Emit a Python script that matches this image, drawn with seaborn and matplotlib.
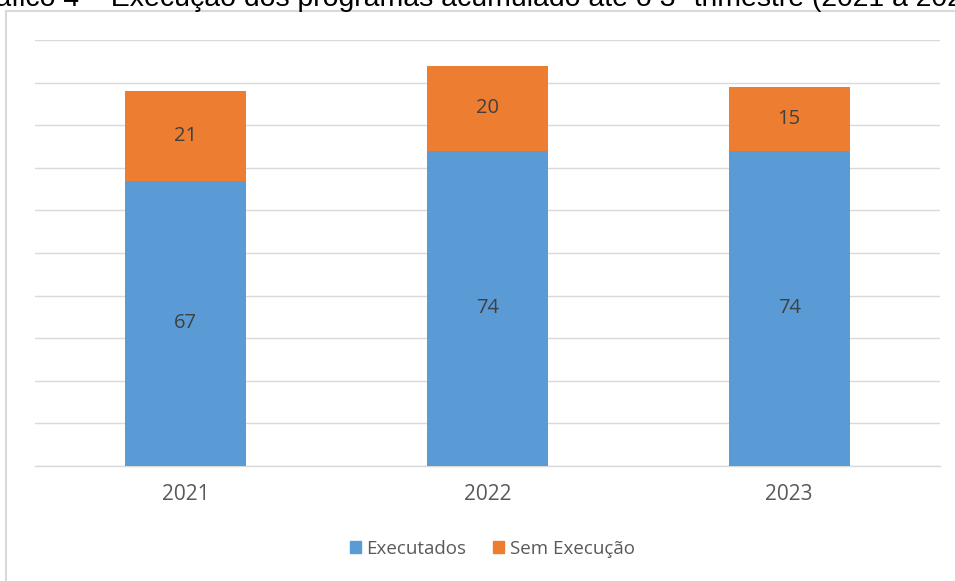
import matplotlib
matplotlib.use("Agg")
import matplotlib.pyplot as plt
import matplotlib.patches as mpatches
import pandas as pd
import seaborn as sns

# data
anos = ["2021", "2022", "2023"]
executados = [67, 74, 74]
sem_execucao = [21, 20, 15]

titulo = "Gráfico 4 – Execução dos programas acumulado até o 3º trimestre (2021 a 2023)"

df = pd.DataFrame({"Ano": anos, "Executados": executados, "Sem Execução": sem_execucao})
df["Total"] = df["Executados"] + df["Sem Execução"]

azul = "#5B9BD5"
laranja = "#ED7D31"

sns.set_style("white")
plt.rcParams["font.family"] = ["Open Sans", "DejaVu Sans"]

fig = plt.figure(figsize=(9.55, 5.81), dpi=100)
ax = fig.add_axes([35 / 955, 1 - 466 / 581, 905 / 955, 426 / 581])

# stacked bars: total first (orange), executed on top (blue)
sns.barplot(data=df, x="Ano", y="Total", color=laranja, width=0.4, saturation=1,
            linewidth=0, ax=ax, zorder=3)
sns.barplot(data=df, x="Ano", y="Executados", color=azul, width=0.4, saturation=1,
            linewidth=0, ax=ax, zorder=3)

for i, row in df.iterrows():
    ax.text(i, row["Executados"] / 2, str(row["Executados"]), ha="center", va="center",
            fontsize=14.5, color="#404040", zorder=4)
    ax.text(i, row["Executados"] + row["Sem Execução"] / 2, str(row["Sem Execução"]),
            ha="center", va="center", fontsize=14.5, color="#404040", zorder=4)

ax.set_ylim(0, 100)
ax.set_yticks(range(0, 101, 10))
ax.set_yticklabels([])
ax.tick_params(axis="y", length=0)
ax.tick_params(axis="x", length=0, labelsize=15, labelcolor="#595959", pad=13)
ax.yaxis.grid(True, color="#D9D9D9", linewidth=1, zorder=0)
ax.set_axisbelow(True)
ax.set_xlabel("")
ax.set_ylabel("")
for s in ["top", "right", "left"]:
    ax.spines[s].set_visible(False)
ax.spines["bottom"].set_color("#D9D9D9")
ax.spines["bottom"].set_linewidth(1)

handles = [mpatches.Patch(color=azul, label="Executados"),
           mpatches.Patch(color=laranja, label="Sem Execução")]
fig.legend(handles=handles, loc="center", bbox_to_anchor=(492 / 955, 1 - 549 / 581), ncol=2,
           frameon=False, fontsize=13.5, handlelength=0.6, handleheight=0.6, handletextpad=0.3,
           columnspacing=1.4, labelcolor="#595959")

# chart frame (cut at the right and bottom in the reference)
fig.patches.append(mpatches.Rectangle((6 / 955, -0.1), 1.1, 1.1 - 11 / 581, transform=fig.transFigure,
                                      fill=False, edgecolor="#D9D9D9", linewidth=1.5))

# title, cropped at the top in the reference
fig.text(-0.038, 1 - 6 / 581, titulo, fontsize=20.4, family=["Liberation Sans", "DejaVu Sans"],
         color="black", va="baseline", ha="left")

fig.savefig("out.png", dpi=100)
